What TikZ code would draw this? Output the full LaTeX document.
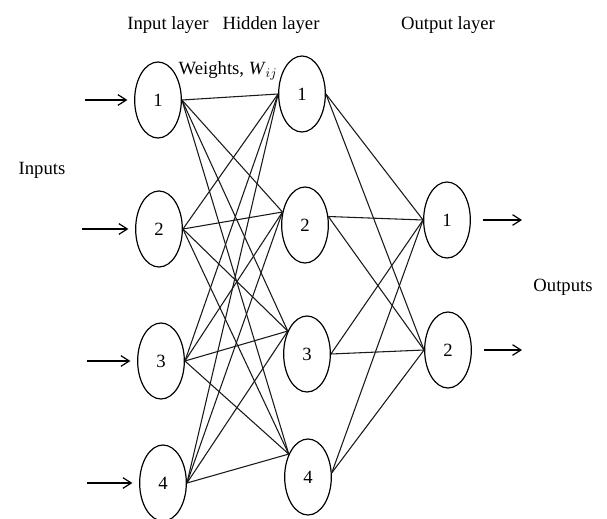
\documentclass[tikz,border=0pt]{standalone}
\usepackage{fontspec}
\setmainfont{Liberation Serif}
\usepackage{tikz}
\usetikzlibrary{arrows.meta,shapes.geometric}
\tikzset{
  neuron/.style ={ellipse, draw=black, line width=0.9pt, minimum width=35pt,
                  minimum height=57pt, inner sep=0pt, font=\fontsize{14}{16}\selectfont},
  layertxt/.style={font=\fontsize{14}{16}\selectfont, inner sep=0pt},
  wire/.style   ={line width=0.8pt, draw=black!90},
  feed/.style   ={-{Straight Barb[length=2.2mm,width=2.8mm]}, line width=0.9pt},
}
\begin{document}
\begin{tikzpicture}[x=0.75pt,y=-0.75pt]
  \useasboundingbox (0,0) rectangle (607,518);
  % layer titles
  \node[layertxt] (tin)  at (168,25) {Input layer};
  \node[layertxt] (thid) at (271,25) {Hidden layer};
  \node[layertxt] (tout) at (448,25) {Output layer};
  \node[layertxt] (tw)   at (228,71) {Weights, \textit{W}$_{ij}$};
  \node[layertxt] (tinp) at (42,170) {Inputs};
  \node[layertxt] (tosp) at (563,287) {Outputs};
  % neurons
  \node[neuron] (in1)  at (158,100) {1};
  \node[neuron] (in2)  at (159,229) {2};
  \node[neuron] (in3)  at (161,361) {3};
  \node[neuron] (in4)  at (163,483) {4};
  \node[neuron] (hid1) at (302,94)  {1};
  \node[neuron] (hid2) at (305,225) {2};
  \node[neuron] (hid3) at (307,354) {3};
  \node[neuron] (hid4) at (308,477) {4};
  \node[neuron] (out1) at (447,220) {1};
  \node[neuron] (out2) at (448,350) {2};
  % free arrow ends
  \coordinate (ia1) at (85,100);
  \coordinate (ia2) at (82,229);
  \coordinate (ia3) at (87,361);
  \coordinate (ia4) at (87,483);
  \coordinate (oa1) at (522,220);
  \coordinate (oa2) at (522,350);
  % weights
  \foreach \i in {1,...,4}
    \foreach \j/\a in {1/180,2/150,3/130,4/130}
      \draw[wire] (in\i.east) -- (hid\j.\a);
  \foreach \j/\b in {1/0,2/20,3/0,4/10}
    \foreach \k in {1,2}
      \draw[wire] (hid\j.\b) -- (out\k.west);
  % inputs and outputs
  \foreach \i in {1,...,4}
    \draw[feed, shorten >=5pt] (ia\i) -- (in\i);
  \draw[feed, shorten <=9pt] (out1) -- (oa1);
  \draw[feed, shorten <=9pt] (out2) -- (oa2);
\end{tikzpicture}
\end{document}
